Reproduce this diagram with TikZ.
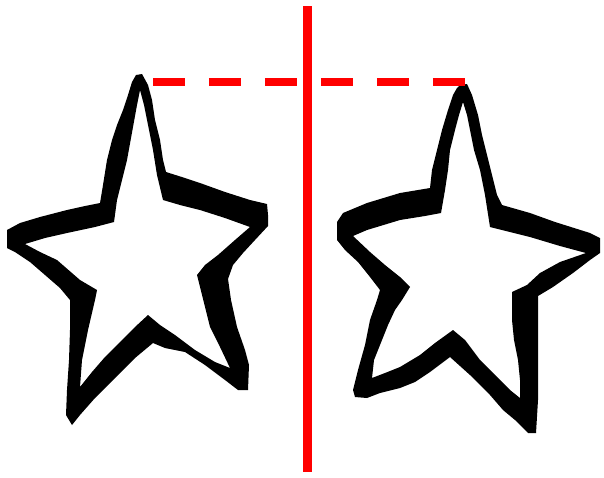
\documentclass[tikz,border=0pt]{standalone}
\usepackage{tikz}
\usetikzlibrary{positioning}
\definecolor{axisred}{HTML}{FF0000}

\begin{document}
\begin{tikzpicture}[x=0.02cm, y=-0.02cm,
    starink/.style={fill=black, even odd rule},
    mirrorline/.style={draw=axisred, line width=5.1pt},
    tipline/.style={draw=axisred, line width=4.4pt, dash pattern=on 0.64cm off 0.48cm}]
    \useasboundingbox (0, 0) rectangle (604, 477);

    % Left star (outline, hole cut out)
    \fill[starink]
        (136,75) -- (142,74) -- (148,85) -- (152,100) -- (155,120) -- (160,140) -- (163,160) -- (166,172)
        -- (185,178) -- (200,183) -- (225,192) -- (250,200) -- (267,204) -- (268,215) -- (268,226)
        -- (255,240) -- (243,253) -- (233,265) -- (228,279) -- (231,300) -- (237,327) -- (245,350)
        -- (249,365) -- (248,390) -- (238,390) -- (225,380) -- (205,365) -- (185,352) -- (165,348)
        -- (153,343) -- (135,358) -- (115,378) -- (95,398) -- (80,415) -- (72,425) -- (66,415)
        -- (67,390) -- (69,360) -- (70,330) -- (70,300) -- (60,288) -- (45,275) -- (30,262)
        -- (15,252) -- (7,248) -- (7,230) -- (20,223) -- (40,217) -- (67,210) -- (85,206)
        -- (100,203) -- (103,185) -- (107,160) -- (112,140) -- (117,125) -- (123,110) -- (128,95)
        -- (132,82) -- cycle
        (140,90) -- (144,105) -- (148,125) -- (153,150) -- (157,175) -- (163,200) -- (180,205)
        -- (200,210) -- (225,218) -- (250,227) -- (235,240) -- (218,255) -- (205,265) -- (197,275)
        -- (202,295) -- (210,327) -- (220,347) -- (230,368) -- (215,362) -- (195,350) -- (175,335)
        -- (160,325) -- (148,315) -- (135,327) -- (120,342) -- (105,357) -- (92,372) -- (80,387)
        -- (82,360) -- (88,330) -- (95,300) -- (97,290) -- (80,280) -- (57,260) -- (40,252)
        -- (25,244) -- (45,238) -- (67,233) -- (95,227) -- (114,222) -- (117,200) -- (122,180)
        -- (127,160) -- (133,127) -- (137,105) -- cycle;

    % Right star (outline, hole cut out)
    \fill[starink]
        (460,85) -- (467,84) -- (472,95) -- (478,115) -- (482,135) -- (487,155) -- (492,175)
        -- (497,195) -- (502,205) -- (530,213) -- (555,222) -- (590,233) -- (600,238) -- (600,253)
        -- (590,260) -- (573,273) -- (553,287) -- (538,296) -- (538,330) -- (538,360) -- (538,400)
        -- (536,433) -- (528,433) -- (515,420) -- (503,410) -- (490,395) -- (470,375) -- (450,357)
        -- (430,372) -- (415,382) -- (400,388) -- (380,393) -- (367,398) -- (355,397) -- (353,390)
        -- (358,370) -- (365,345) -- (370,320) -- (377,300) -- (380,290) -- (370,277) -- (358,262)
        -- (345,250) -- (337,240) -- (337,222) -- (343,213) -- (367,203) -- (400,193) -- (430,188)
        -- (432,170) -- (437,150) -- (442,130) -- (448,110) -- (453,95) -- (457,88) -- cycle
        (463,102) -- (467,115) -- (470,130) -- (474,150) -- (480,170) -- (485,195) -- (490,227)
        -- (510,232) -- (530,237) -- (560,246) -- (586,253) -- (560,262) -- (540,273) -- (527,285)
        -- (512,292) -- (512,320) -- (514,340) -- (518,360) -- (520,380) -- (520,398) -- (510,390)
        -- (495,375) -- (480,360) -- (465,340) -- (453,330) -- (435,343) -- (420,355) -- (400,367)
        -- (385,373) -- (372,378) -- (374,360) -- (380,345) -- (388,325) -- (395,310) -- (402,300)
        -- (410,287) -- (400,277) -- (385,265) -- (370,252) -- (353,236) -- (367,230) -- (400,220)
        -- (425,216) -- (441,213) -- (445,190) -- (448,170) -- (450,150) -- (455,130) -- (459,115)
        -- cycle;

    % Mirror axis and tip-to-tip guide
    \coordinate (axisTop) at (307.5, 6);
    \coordinate (axisBot) at (307.5, 472);
    \coordinate (tipL) at (153, 82);
    \coordinate (tipR) at (465, 82);
    \draw[tipline] (tipL) -- (tipR);
    \draw[mirrorline] (axisTop) -- (axisBot);
\end{tikzpicture}
\end{document}
